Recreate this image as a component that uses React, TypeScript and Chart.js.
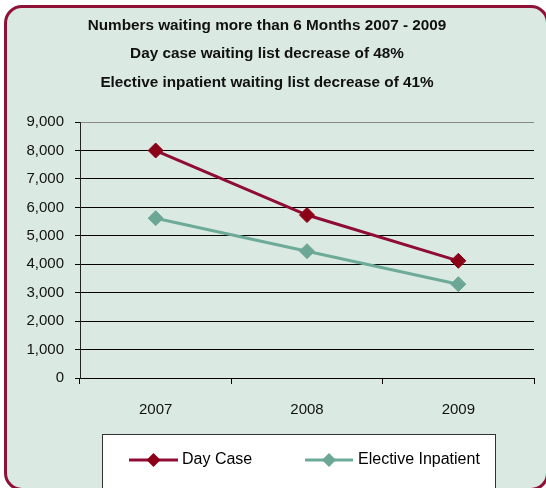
import React, { useEffect, useRef } from "react";
import { Chart, registerables } from "chart.js";

Chart.register(...registerables);

const years = ["2007", "2008", "2009"];
const dayCase = [8000, 5730, 4120];
const elective = [5620, 4460, 3300];
const titleLines = [
  "Numbers waiting more than 6 Months 2007 - 2009",
  "Day case waiting list decrease of 48%",
  "Elective inpatient waiting list decrease of 41%",
];
const seriesNames = ["Day Case", "Elective Inpatient"];

const FONT = "'Liberation Sans', Arial, sans-serif";
const DAY_LINE = "#8F0C35";
const DAY_POINT = "#8B0016";
const EL_LINE = "#6DAA98";
const EL_POINT = "#6CA695";

const boxLegend = {
  id: "boxLegend",
  afterDraw(chart: any) {
    const ctx = chart.ctx;
    ctx.save();
    ctx.fillStyle = "#ffffff";
    ctx.fillRect(102, 434, 394, 60);
    ctx.strokeStyle = "#333333";
    ctx.lineWidth = 1;
    ctx.strokeRect(102.5, 434.5, 393, 60);
    const items = [
      { x1: 129, x2: 178, tx: 182 },
      { x1: 305, x2: 353, tx: 358 },
    ];
    const y = 460;
    chart.data.datasets.forEach((ds: any, i: number) => {
      const it = items[i];
      ctx.strokeStyle = ds.borderColor;
      ctx.lineWidth = 3;
      ctx.beginPath();
      ctx.moveTo(it.x1, y);
      ctx.lineTo(it.x2, y);
      ctx.stroke();
      const cx = (it.x1 + it.x2) / 2;
      const r = 7;
      ctx.fillStyle = ds.pointBackgroundColor;
      ctx.beginPath();
      ctx.moveTo(cx, y - r);
      ctx.lineTo(cx + r, y);
      ctx.lineTo(cx, y + r);
      ctx.lineTo(cx - r, y);
      ctx.closePath();
      ctx.fill();
      ctx.fillStyle = "#000000";
      ctx.font = `16px ${FONT}`;
      ctx.textAlign = "left";
      ctx.textBaseline = "middle";
      ctx.fillText(ds.label, it.tx, y);
    });
    ctx.restore();
  },
};

export default function App() {
  const ref = useRef<HTMLCanvasElement>(null);
  useEffect(() => {
    if (!ref.current) return;
    const chart = new Chart(ref.current, {
      type: "line",
      data: {
        labels: years,
        datasets: [
          {
            label: seriesNames[0],
            data: dayCase,
            borderColor: DAY_LINE,
            backgroundColor: DAY_POINT,
            pointBackgroundColor: DAY_POINT,
            pointBorderColor: DAY_POINT,
            borderWidth: 3,
            pointStyle: "rectRot",
            pointRadius: 7.5,
            pointBorderWidth: 1,
            tension: 0,
          },
          {
            label: seriesNames[1],
            data: elective,
            borderColor: EL_LINE,
            backgroundColor: EL_POINT,
            pointBackgroundColor: EL_POINT,
            pointBorderColor: EL_POINT,
            borderWidth: 3,
            pointStyle: "rectRot",
            pointRadius: 7.5,
            pointBorderWidth: 1,
            tension: 0,
          },
        ],
      },
      options: {
        responsive: false,
        animation: false,
        devicePixelRatio: 1,
        layout: { padding: { left: 0, right: 12, top: 0, bottom: 0 } },
        plugins: {
          legend: { display: false },
          tooltip: { enabled: false },
          title: {
            display: true,
            text: titleLines,
            color: "#111111",
            font: { family: FONT, size: 15.3, weight: "bold", lineHeight: 1.86 },
            padding: { top: 11.5, bottom: 25.2 },
          },
        },
        scales: {
          x: {
            offset: true,
            grid: {
              offset: true,
              drawOnChartArea: true,
              color: (c: any) => (c.index === years.length ? "#8a8a8a" : "rgba(0,0,0,0)"),
              tickColor: "#000000",
              tickLength: 6,
            },
            border: { display: true, color: "#000000", width: 1 },
            ticks: {
              color: "#111111",
              font: { family: FONT, size: 15 },
              padding: 17,
            },
            afterFit: (s: any) => {
              s.height = 110;
            },
          },
          y: {
            min: 0,
            max: 9000,
            ticks: {
              stepSize: 1000,
              color: "#111111",
              font: { family: FONT, size: 15 },
              padding: 11,
              callback: (v: any) => Number(v).toLocaleString("en-US"),
            },
            grid: {
              color: (c: any) => (c.tick && c.tick.value === 9000 ? "#8a8a8a" : "#000000"),
              tickColor: "#000000",
              tickLength: 5,
            },
            border: { display: true, color: "#222222", width: 1 },
            afterFit: (s: any) => {
              s.width = 80;
            },
          },
        },
      },
      plugins: [boxLegend],
    });
    return () => chart.destroy();
  }, []);

  return (
    <div style={{ position: "absolute", left: 0, top: 0, width: 546, height: 488, overflow: "hidden" }}>
      <div
        style={{
          position: "absolute",
          left: 4,
          top: 5,
          width: 545,
          height: 486,
          boxSizing: "border-box",
          border: "3px solid #8E1238",
          borderRadius: 18,
          background: "#DBE9E3",
        }}
      />
      <canvas ref={ref} width={546} height={488} style={{ position: "absolute", left: 0, top: 0 }} />
    </div>
  );
}
